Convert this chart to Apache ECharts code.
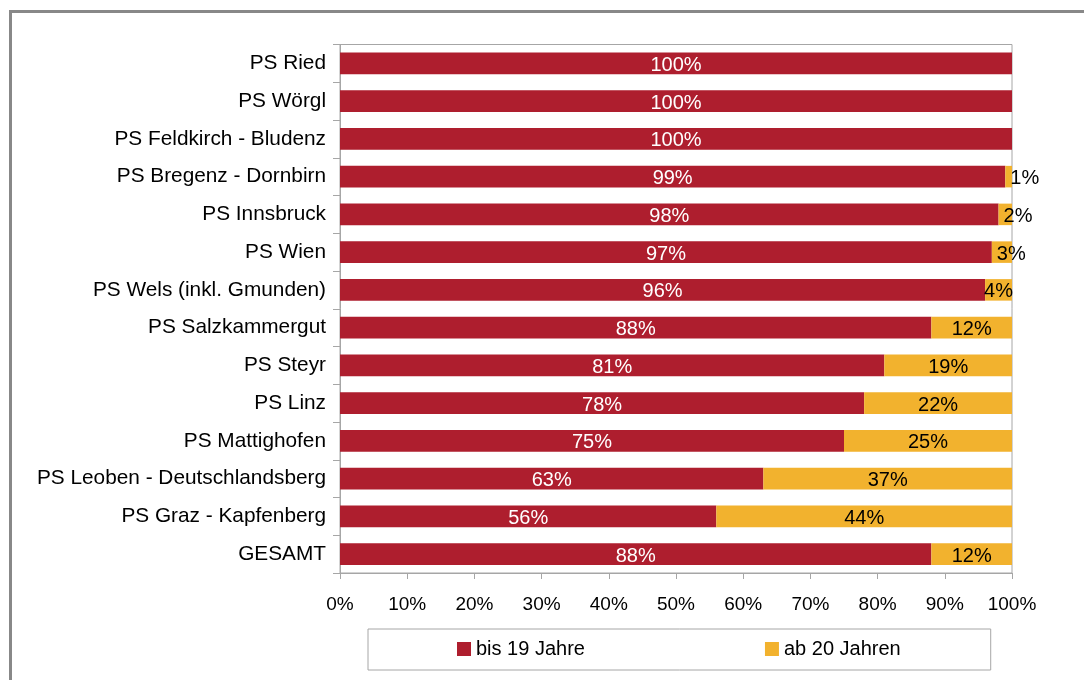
<!DOCTYPE html>
<html>
<head>
<meta charset="utf-8">
<title>Altersstruktur</title>
<script src="https://cdn.jsdelivr.net/npm/echarts@6/dist/echarts.min.js"></script>
<style>
	html, body { margin:0; padding:0; background:#fff; }
	#chart { width:1084px; height:680px; }
</style>
</head>
<body>
<div id="chart"></div>
<script>
	//------------------------数据-开始------------------//
	var categories = ['PS Ried','PS Wörgl','PS Feldkirch - Bludenz','PS Bregenz - Dornbirn','PS Innsbruck','PS Wien',
		'PS Wels (inkl. Gmunden)','PS Salzkammergut','PS Steyr','PS Linz','PS Mattighofen',
		'PS Leoben - Deutschlandsberg','PS Graz - Kapfenberg','GESAMT'];
	var bis19 = [100, 100, 100, 99, 98, 97, 96, 88, 81, 78, 75, 63, 56, 88];
	var ab20 = [0, 0, 0, 1, 2, 3, 4, 12, 19, 22, 25, 37, 44, 12];
	var seriesNames = ['bis 19 Jahre', 'ab 20 Jahren'];
	var xTicks = [0, 10, 20, 30, 40, 50, 60, 70, 80, 90, 100];
	//------------------------数据-结束------------------//

	var fontName = "'Liberation Sans', Arial, sans-serif";
	var gray = '#a6a6a6';

	function pctLabel(p)
	{
		return p.value > 0 ? p.value + '%' : '';
	}

	// small yellow parts: label starts at the segment, like in the original
	function buildAb20Data()
	{
		return ab20.map(function(v){
			if(v > 0 && v < 4)
			{
				return { value: v, label: { position: 'insideLeft', distance: 5 } };
			}
			return v;
		});
	}

	function chartBar()
	{
		var option = {
			animation: false,
			color: ['#ae1e2e', '#f2b22e'],
			textStyle: { fontFamily: fontName },
			graphic: [{
				type: 'rect',
				shape: { x: 10.5, y: 11.5, width: 1200, height: 800 },
				style: { fill: 'none', stroke: '#888888', lineWidth: 3 },
				silent: true
			}],
			grid: {
				left: 340,
				right: 72,
				top: 44.5,
				bottom: 107,
				show: true,
				borderColor: gray,
				borderWidth: 1
			},
			legend: {
				data: seriesNames,
				left: 368,
				top: 629,
				padding: [10, 90, 11, 89],
				itemGap: 180,
				itemWidth: 14,
				itemHeight: 14,
				icon: 'rect',
				borderColor: gray,
				borderWidth: 1,
				textStyle: { fontSize: 20, color: '#000', fontFamily: fontName }
			},
			xAxis: {
				type: 'value',
				min: xTicks[0],
				max: xTicks[xTicks.length - 1],
				interval: xTicks[1] - xTicks[0],
				axisLine: { show: true, lineStyle: { color: gray } },
				axisTick: { show: true, length: 6, lineStyle: { color: gray } },
				splitLine: { show: false },
				axisLabel: {
					formatter: '{value}%',
					fontSize: 19,
					color: '#000',
					margin: 22,
					fontFamily: fontName
				}
			},
			yAxis: {
				type: 'category',
				inverse: true,
				data: categories,
				axisLine: { show: true, lineStyle: { color: gray } },
				axisTick: { show: true, length: 7, lineStyle: { color: gray } },
				axisLabel: {
					fontSize: 20.8,
					color: '#000',
					margin: 14,
					fontFamily: fontName
				}
			},
			series: [
				{
					name: seriesNames[0],
					type: 'bar',
					stack: 'total',
					barWidth: '57%',
					data: bis19,
					label: {
						show: true,
						position: 'inside',
						offset: [0, 2],
						color: '#fff',
						fontSize: 20,
						fontFamily: fontName,
						formatter: pctLabel
					}
				},
				{
					name: seriesNames[1],
					type: 'bar',
					stack: 'total',
					barWidth: '57%',
					data: buildAb20Data(),
					label: {
						show: true,
						position: 'inside',
						offset: [0, 2],
						color: '#000',
						fontSize: 20,
						fontFamily: fontName,
						formatter: pctLabel
					}
				}
			]
		};
		var myChart = echarts.init(document.getElementById('chart'));
		myChart.setOption(option);
	}

	chartBar();
</script>
</body>
</html>
